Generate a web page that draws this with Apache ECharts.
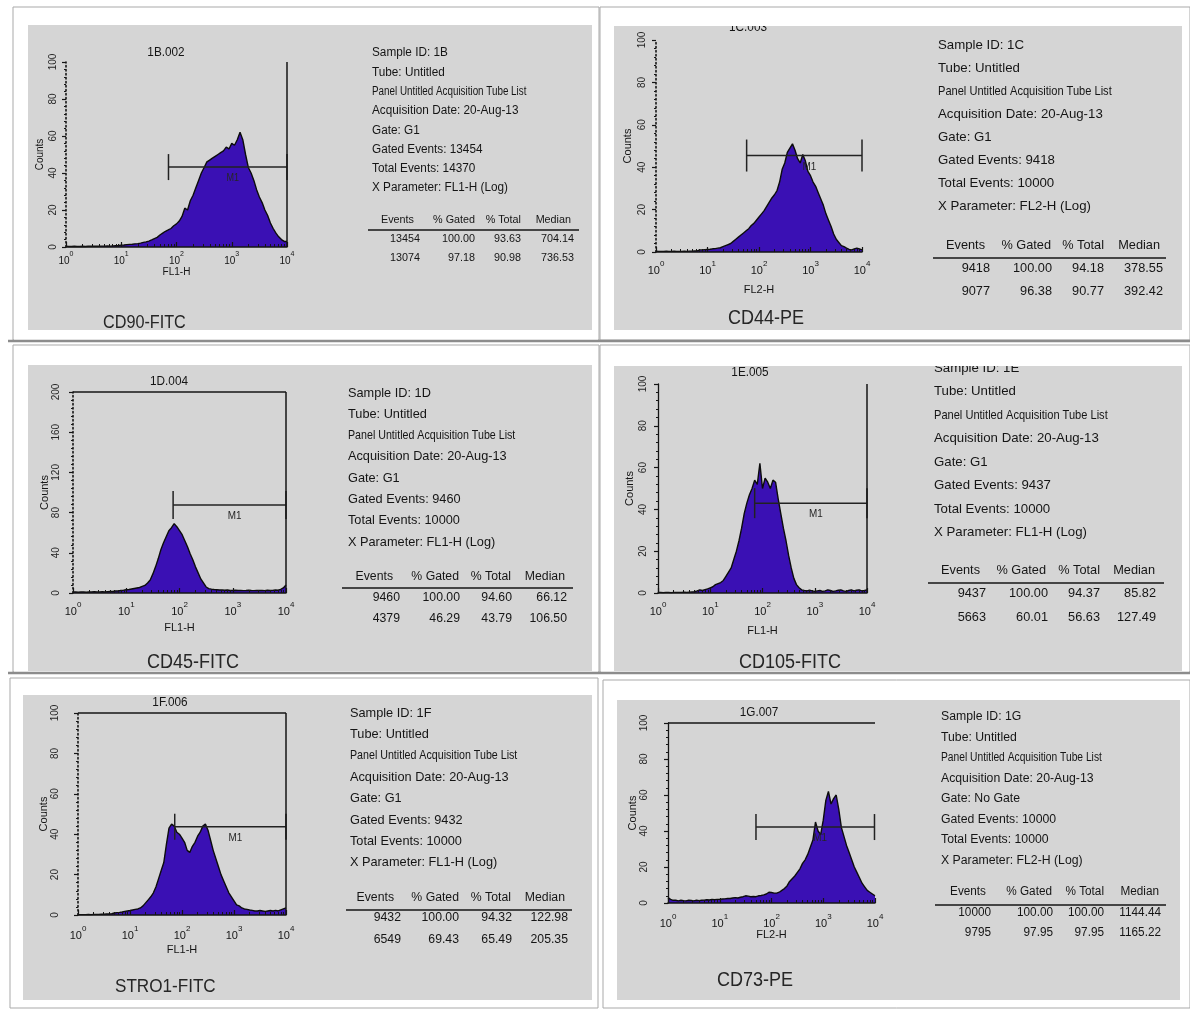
<!DOCTYPE html>
<html>
<head>
<meta charset="utf-8">
<script src="https://cdn.jsdelivr.net/npm/echarts@6/dist/echarts.min.js"></script>
<style>
  html, body { margin: 0; padding: 0; background: #fff; }
  #chart { width: 1190px; height: 1012px; }
</style>
</head>
<body>
<div id="chart"></div>
<script>
// Flow cytometry histograms: counts per 0.05-decade channel, 10^0 .. 10^4 (81 channels)
const CHANNEL_STEP = 0.05;

const cd90Counts = [
  0.5, 0.3, 0.3, 0.4, 0.3, 0.3, 0.4, 0.3, 0.4, 0.4,
  0.4, 0.5, 0.4, 0.5, 0.5, 0.6, 0.5, 0.6, 0.7, 0.8,
  1.0, 1.1, 1.3, 1.4, 1.5, 1.7, 1.8, 2.1, 2.5, 2.8,
  3.2, 3.8, 4.5, 5.2, 6.5, 7.5, 8.5, 9.2, 10, 11.5,
  12.5, 14, 16.5, 21, 20, 25, 28, 32, 36, 40,
  43, 46, 47, 48, 49, 50, 51, 52, 54, 53,
  56, 55, 58, 62, 58, 50, 43, 40, 36, 31,
  27, 24, 20, 17, 13, 10, 7.5, 5.5, 4, 3,
  3
];
const cd44Counts = [
  0.4, 0.3, 0.3, 0.3, 0.4, 0.3, 0.3, 0.4, 0.3, 0.3,
  0.3, 0.4, 0.3, 0.4, 0.4, 0.5, 0.5, 1, 1, 1.1,
  1.2, 1.3, 1.5, 1.6, 1.8, 2, 2.5, 3, 3.5, 4,
  5, 6, 7, 8, 9, 10, 11, 12.5, 13.5, 15,
  16.5, 18, 19.5, 21.5, 23.5, 25.5, 27, 29, 33, 39,
  42, 47, 49, 51, 48, 44, 42, 46, 43, 38,
  36, 33, 31, 28, 25, 22, 18, 15, 12, 8.5,
  6, 4.5, 3, 2.5, 1.8, 1.2, 1, 1.5, 1.8, 1.5,
  1
];
const cd45Counts = [
  1, 1, 0.8, 1, 1, 0.8, 1, 1, 1.2, 1,
  1, 1.2, 1, 1.3, 1.5, 1.5, 2, 2, 2.5, 2.8,
  3.3, 3.5, 4, 4.5, 5, 5.5, 6.5, 7.5, 10, 13,
  19, 26, 34, 43, 50, 56, 62, 65, 69, 66,
  62, 58, 52, 46, 39, 33, 26, 20, 14, 10,
  6, 4.3, 3.8, 3.5, 3.3, 3, 3, 2.8, 3, 2.5,
  2.5, 2.8, 2.5, 2.6, 2.4, 2.5, 2.8, 2.5, 2.4, 2.6,
  2.5, 2.6, 2.4, 2.8, 2.5, 2.6, 3, 2.8, 3.5, 5,
  8
];
const cd105Counts = [
  0.3, 0.3, 0.2, 0.3, 0.3, 0.2, 0.3, 0.3, 0.3, 0.3,
  0.4, 0.3, 0.4, 0.5, 0.6, 1, 1.5, 1.2, 1.6, 2,
  2.5, 3, 4, 4.5, 5, 6, 8, 10, 12, 16,
  20, 25, 31, 38, 43, 47, 50, 54, 52, 62,
  50, 55, 53, 50, 54, 53, 45, 38, 31, 25,
  18, 12, 7, 4, 2.5, 1.5, 1.2, 1, 1.3, 1,
  0.8, 1, 1.2, 0.8, 1, 1.5, 1.2, 0.8, 1, 1.3,
  1.5, 1, 0.8, 1.2, 1.5, 1, 1.3, 1.5, 1, 1.2,
  1.5
];
const stro1Counts = [
  0.2, 0.2, 0.2, 0.2, 0.3, 0.2, 0.3, 0.3, 0.3, 0.4,
  0.4, 0.5, 0.5, 0.6, 1, 1.2, 1.3, 1.5, 1.8, 2,
  2.2, 2.5, 2.8, 3, 3.5, 4.5, 6, 7.5, 9, 11,
  14, 18, 22, 26, 35, 43, 45, 44, 41, 40,
  38, 36, 32, 31, 34, 36, 39, 41, 44, 45,
  42, 37, 32, 28, 24, 20, 17, 14, 11, 9,
  7, 5, 4.5, 3.5, 3, 2.8, 2.5, 2.3, 2, 2,
  2.2, 2, 1.8, 2, 2.2, 2, 2.3, 2, 2.5, 3,
  3.5
];
const cd73Counts = [
  3, 2, 1.5, 1.5, 1.2, 1.5, 1.3, 1.2, 1.5, 1.4,
  1.2, 1.5, 1.3, 1.5, 1.6, 1.8, 1.7, 2, 1.8, 2,
  2, 2.2, 2.3, 2.5, 2.5, 2.8, 3, 2.8, 3.2, 3.5,
  4, 3.8, 3.5, 3.6, 3.5, 4, 4.2, 4.5, 5, 6,
  5.8, 5.5, 5.5, 6, 7, 8, 9.5, 12, 13.5, 15,
  17, 19, 22, 24, 27, 31, 35, 45, 40, 38,
  46, 57, 62, 55, 58, 60, 52, 42, 37, 32,
  28, 24, 20, 17, 14, 11, 9, 7, 6, 5,
  4
];
const histCounts = [cd90Counts, cd44Counts, cd45Counts, cd105Counts, stro1Counts, cd73Counts];

// Acquisition details
const plotTitles  = ['1B.002', '1C.003', '1D.004', '1E.005', '1F.006', '1G.007'];
const markerNames = ['CD90-FITC', 'CD44-PE', 'CD45-FITC', 'CD105-FITC', 'STRO1-FITC', 'CD73-PE'];
const sampleIds   = ['1B', '1C', '1D', '1E', '1F', '1G'];
const gateNames   = ['G1', 'G1', 'G1', 'G1', 'G1', 'No Gate'];
const gatedEvents = [13454, 9418, 9460, 9437, 9432, 10000];
const totalEvents = [14370, 10000, 10000, 10000, 10000, 10000];
const xParams     = ['FL1-H', 'FL2-H', 'FL1-H', 'FL1-H', 'FL1-H', 'FL2-H'];
const acquisitionDate = '20-Aug-13';

// Statistics tables: [All, M1] rows of Events, % Gated, % Total, Median
const statHeader = ['Events', '% Gated', '% Total', 'Median'];
const statRows = [
  [['13454', '100.00', '93.63', '704.14'], ['13074', '97.18', '90.98', '736.53']],
  [['9418', '100.00', '94.18', '378.55'], ['9077', '96.38', '90.77', '392.42']],
  [['9460', '100.00', '94.60', '66.12'], ['4379', '46.29', '43.79', '106.50']],
  [['9437', '100.00', '94.37', '85.82'], ['5663', '60.01', '56.63', '127.49']],
  [['9432', '100.00', '94.32', '122.98'], ['6549', '69.43', '65.49', '205.35']],
  [['10000', '100.00', '100.00', '1144.44'], ['9795', '97.95', '97.95', '1165.22']]
];

// Axis ranges (y max) and tick steps
const countMax  = [100, 100, 200, 100, 100, 100];
const countStep = [20, 20, 40, 20, 20, 20];
const decadeTicks = [0, 1, 2, 3, 4];

// M1 marker: [start decade, end decade, count level]
const m1Markers = [
  [1.855, 4.0, 43.2],
  [1.76, 4.0, 45.5],
  [1.88, 4.0, 87.6],
  [1.85, 4.0, 43],
  [1.86, 4.0, 43.7],
  [1.70, 3.99, 42.2]
];
// Region boundary segments [x1, y1, x2, y2] in decade / count units
const regionLines = [
  [[4, 0, 4, 100]],
  [],
  [[0, 200, 4, 200], [4, 0, 4, 200]],
  [[4, 0, 4, 100]],
  [[0, 100, 4, 100], [4, 0, 4, 100]],
  [[0, 100, 4, 100]]
];

// ---- page layout (pixels) ----
const layout = [
  { frame: [13, 7, 586, 333], gray: [28, 25, 564, 305], plot: [66, 62, 287, 247], title: [166, 53, 12],
    info: { x: 372, y: 53, dy: 19.3, fs: 12 },
    table: { head: 220, line: 230, lx: [368, 579], rows: [239, 258], hdr: [414, 475, 521, 571], val: [420, 475, 521, 574], fs: 11 },
    caption: [103, 323, 18], cap: 13, tickFs: 10, xLabelMargin: 4, xNameGap: 15, nameFs: 10,
    yLabelMargin: 8, yNameGap: 21, yTickFs: 10, dotted: true },
  { frame: [600, 7, 590, 333], gray: [614, 26, 568, 304], plot: [656, 40, 862, 252], title: [748, 28, 12],
    info: { x: 938, y: 45, dy: 23.1, fs: 13.5 },
    table: { head: 245, line: 258, lx: [933, 1166], rows: [268, 291], hdr: [985, 1051, 1104, 1160], val: [990, 1052, 1104, 1163], fs: 13 },
    caption: [728, 318, 20], cap: 16, tickFs: 11, xLabelMargin: 8, xNameGap: 32, nameFs: 11,
    yLabelMargin: 9, yNameGap: 23, yTickFs: 10, dotted: true },
  { frame: [13, 345, 586, 327], gray: [28, 365, 564, 306], plot: [73, 392, 286, 593], title: [169, 382, 12],
    info: { x: 348, y: 393, dy: 21.3, fs: 13 },
    table: { head: 577, line: 588, lx: [342, 573], rows: [598, 619], hdr: [393, 459, 511, 565], val: [400, 460, 512, 567], fs: 12.5 },
    caption: [147, 662, 20], cap: 14, tickFs: 11, xLabelMargin: 8, xNameGap: 29, nameFs: 11,
    yLabelMargin: 12, yNameGap: 20, yTickFs: 10, dotted: true },
  { frame: [600, 345, 590, 327], gray: [614, 366, 568, 305], plot: [658, 384, 867, 593], title: [750, 373, 12],
    info: { x: 934, y: 368, dy: 23.5, fs: 13.5 },
    table: { head: 570, line: 583, lx: [928, 1164], rows: [593, 617], hdr: [980, 1046, 1100, 1155], val: [986, 1048, 1100, 1156], fs: 13 },
    caption: [739, 662, 20], cap: 15, tickFs: 11, xLabelMargin: 8, xNameGap: 32, nameFs: 11,
    yLabelMargin: 10, yNameGap: 23, yTickFs: 10, dotted: false },
  { frame: [10, 678, 588, 330], gray: [23, 695, 569, 305], plot: [78, 713, 286, 915], title: [170, 703, 12],
    info: { x: 350, y: 713, dy: 21.4, fs: 13 },
    table: { head: 898, line: 910, lx: [346, 572], rows: [918, 940], hdr: [394, 459, 511, 565], val: [401, 459, 512, 568], fs: 12.5 },
    caption: [115, 987, 19], cap: 13, tickFs: 11, xLabelMargin: 10, xNameGap: 29, nameFs: 11,
    yLabelMargin: 18, yNameGap: 26, yTickFs: 10, dotted: true },
  { frame: [603, 680, 587, 328], gray: [617, 700, 563, 300], plot: [668, 723, 875, 903], title: [759, 713, 12],
    info: { x: 941, y: 717, dy: 20.5, fs: 12.5 },
    table: { head: 892, line: 905, lx: [935, 1166], rows: [913, 933], hdr: [986, 1052, 1104, 1159], val: [991, 1053, 1104, 1161], fs: 12 },
    caption: [717, 980, 20], cap: 13, tickFs: 11, xLabelMargin: 10, xNameGap: 26, nameFs: 11,
    yLabelMargin: 19, yNameGap: 24, yTickFs: 10, dotted: false }
];

// White strips that trim text running past the grey plot backgrounds
const trims = [
  [14, 330, 584, 10],
  [601, 8, 588, 18],
  [601, 346, 588, 20],
  [14, 671, 584, 2],
  [601, 671, 588, 2]
];

const FONT = '"Liberation Sans", Arial, Helvetica, sans-serif';
const INK = '#151515';
const FILL = '#3a10b4';
const PANEL_GREY = '#d5d5d5';
const TEXT_SX = 0.98;      // horizontal squeeze of the report text
const PANEL_LINE_SX = 0.82;
const CAPTION_SX = 0.9;

// log-decade minor tick positions (2..9 in each decade)
const minorDecadeTicks = [];
for (let d = 0; d < 4; d++) for (let m = 2; m <= 9; m++) minorDecadeTicks.push(d + Math.log10(m));

const grids = [], xAxes = [], yAxes = [], series = [], graphics = [];

function txt(x, y, text, fs, opts) {
  opts = opts || {};
  return {
    type: 'text', x: x, y: y, z: opts.z != null ? opts.z : 20,
    scaleX: opts.sx != null ? opts.sx : TEXT_SX, originX: 0, originY: 0,
    silent: true,
    style: {
      text: text, fontSize: fs, fontFamily: opts.family || FONT,
      fill: opts.color || INK, align: opts.align || 'left', verticalAlign: 'middle'
    }
  };
}

layout.forEach((L, k) => {
  const [x0, yTop, x4, y0] = L.plot;

  // frame + grey background
  graphics.push({ type: 'rect', z: -20, silent: true,
    shape: { x: L.frame[0], y: L.frame[1], width: L.frame[2], height: L.frame[3] },
    style: { fill: '#ffffff', stroke: '#a9a9a9', lineWidth: 1 } });
  graphics.push({ type: 'rect', z: -19, silent: true,
    shape: { x: L.gray[0], y: L.gray[1], width: L.gray[2], height: L.gray[3] },
    style: { fill: PANEL_GREY } });

  // plot title and marker caption
  graphics.push(txt(L.title[0], L.title[1], plotTitles[k], L.title[2], { align: 'center' }));
  graphics.push(txt(L.caption[0], L.caption[1], markerNames[k], L.caption[2], { color: '#262626', sx: CAPTION_SX }));

  // acquisition info lines
  const info = [
    'Sample ID: ' + sampleIds[k],
    'Tube: Untitled',
    'Panel Untitled Acquisition Tube List',
    'Acquisition Date: ' + acquisitionDate,
    'Gate: ' + gateNames[k],
    'Gated Events: ' + gatedEvents[k],
    'Total Events: ' + totalEvents[k],
    'X Parameter: ' + xParams[k] + ' (Log)'
  ];
  info.forEach((line, j) => {
    graphics.push(txt(L.info.x, L.info.y + j * L.info.dy, line, L.info.fs,
      { sx: j === 2 ? PANEL_LINE_SX : TEXT_SX }));
  });

  // statistics table
  const T = L.table;
  statHeader.forEach((h, c) => graphics.push(txt(T.hdr[c], T.head, h, T.fs, { align: 'right' })));
  graphics.push({ type: 'line', z: 20, silent: true,
    shape: { x1: T.lx[0], y1: T.line, x2: T.lx[1], y2: T.line },
    style: { stroke: INK, lineWidth: 1.5 } });
  statRows[k].forEach((row, r) => {
    row.forEach((v, c) => graphics.push(txt(T.val[c], T.rows[r], v, T.fs, { align: 'right' })));
  });

  // axes
  grids.push({ left: x0, top: yTop, width: x4 - x0, height: y0 - yTop,
    containLabel: false, outerBoundsMode: 'none', show: false });

  const tfs = L.tickFs;
  xAxes.push({
    gridIndex: k, type: 'value', position: 'bottom', min: 0, max: 4, interval: 1, z: 6,
    axisLine: { show: true, onZero: false, lineStyle: { color: INK, width: 1.5 } },
    axisTick: { show: true, inside: true, length: 5, lineStyle: { color: INK, width: 1.2 } },
    axisLabel: {
      margin: L.xLabelMargin, customValues: decadeTicks,
      formatter: v => '{b|10}{s|' + v + '}',
      rich: {
        b: { fontSize: tfs, fontFamily: FONT, color: INK, lineHeight: tfs + 5, verticalAlign: 'bottom' },
        s: { fontSize: tfs - 3, fontFamily: FONT, color: INK, lineHeight: tfs + 5, verticalAlign: 'top' }
      }
    },
    splitLine: { show: false },
    name: xParams[k], nameLocation: 'middle', nameGap: L.xNameGap,
    nameTextStyle: { fontSize: L.nameFs, fontFamily: FONT, color: INK }
  });
  xAxes.push({
    gridIndex: k, type: 'value', position: 'bottom', min: 0, max: 4, z: 6,
    axisLine: { show: false }, axisLabel: { show: false }, splitLine: { show: false },
    axisTick: { show: true, inside: true, length: 3, customValues: minorDecadeTicks,
      lineStyle: { color: INK, width: 1 } }
  });
  yAxes.push({
    gridIndex: k, type: 'value', min: 0, max: countMax[k], interval: countStep[k], z: 6,
    axisLine: { show: true, onZero: false,
      lineStyle: { color: INK, width: L.dotted ? 1.6 : 1.3, type: L.dotted ? [1.5, 2.5] : 'solid' } },
    axisTick: { show: true, length: 4, lineStyle: { color: INK, width: 1.2 } },
    minorTick: { show: true, splitNumber: 5, length: 2, lineStyle: { color: INK, width: 1 } },
    axisLabel: { rotate: 90, margin: L.yLabelMargin, fontSize: L.yTickFs, fontFamily: FONT, color: '#262626' },
    splitLine: { show: false },
    name: 'Counts', nameLocation: 'middle', nameRotate: 90, nameGap: L.yNameGap,
    nameTextStyle: { fontSize: L.nameFs, fontFamily: FONT, color: INK }
  });

  // histogram
  series.push({
    type: 'line', xAxisIndex: 2 * k, yAxisIndex: k, z: 2,
    data: histCounts[k].map((c, i) => [i * CHANNEL_STEP, c]),
    symbol: 'none', smooth: false,
    lineStyle: { color: '#0c0c0c', width: 1.4 },
    areaStyle: { color: FILL, opacity: 1 },
    markLine: {
      silent: true, symbol: ['none', 'none'], animation: false,
      label: { show: false },
      lineStyle: { color: INK, width: 1.5, type: 'solid' },
      data: regionLines[k].map(s => [{ coord: [s[0], s[1]] }, { coord: [s[2], s[3]] }])
    }
  });

  // M1 marker bar
  const capHalf = L.cap;
  series.push({
    type: 'custom', xAxisIndex: 2 * k, yAxisIndex: k, z: 4, clip: false,
    data: [m1Markers[k]],
    renderItem: (params, api) => {
      const a = api.coord([api.value(0), api.value(2)]);
      const b = api.coord([api.value(1), api.value(2)]);
      const st = { stroke: '#222', lineWidth: 1.5 };
      return {
        type: 'group',
        children: [
          { type: 'line', shape: { x1: a[0], y1: a[1], x2: b[0], y2: b[1] }, style: st },
          { type: 'line', shape: { x1: a[0], y1: a[1] - capHalf, x2: a[0], y2: a[1] + capHalf }, style: st },
          { type: 'line', shape: { x1: b[0], y1: b[1] - capHalf, x2: b[0], y2: b[1] + capHalf }, style: st },
          { type: 'text', x: (a[0] + b[0]) / 2 + 5, y: a[1] + 11, scaleX: 0.9,
            style: { text: 'M1', fontSize: tfs, fontFamily: FONT, fill: '#262626',
              align: 'center', verticalAlign: 'middle' } }
        ]
      };
    }
  });
});

trims.forEach(t => graphics.push({ type: 'rect', z: 30, silent: true,
  shape: { x: t[0], y: t[1], width: t[2], height: t[3] }, style: { fill: '#ffffff' } }));
// frame separators between panel rows
[341, 673].forEach(y => graphics.push({ type: 'line', z: 31, silent: true,
  shape: { x1: 8, y1: y, x2: 1190, y2: y }, style: { stroke: '#8c8c8c', lineWidth: 2.5 } }));

const chart = echarts.init(document.getElementById('chart'), null, { renderer: 'canvas', width: 1190, height: 1012 });
chart.setOption({
  animation: false,
  backgroundColor: '#ffffff',
  grid: grids,
  xAxis: xAxes,
  yAxis: yAxes,
  series: series,
  graphic: { elements: graphics }
});
</script>
</body>
</html>
